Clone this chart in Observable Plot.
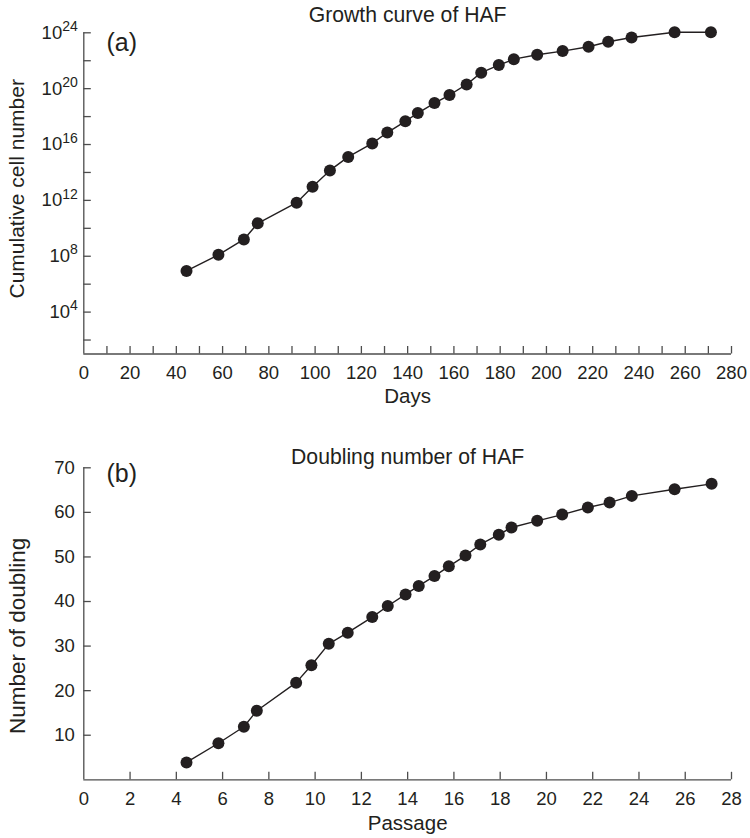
<!DOCTYPE html>
<html><head><meta charset="utf-8">
<script src="https://cdn.jsdelivr.net/npm/d3@7"></script>
<script src="https://cdn.jsdelivr.net/npm/@observablehq/plot@0.6"></script>
<style>
body{margin:0;background:#fff;}
#chart svg{display:block;}
</style></head><body><div id="chart"></div>
<script>
// ---- Panel (a): Growth curve of HAF ----
const days = [44.4, 58.2, 69.2, 75.2, 92.0, 98.9, 106.4, 114.3, 124.7, 131.2, 139.0, 144.4, 151.6,
  158.1, 165.5, 171.8, 179.4, 185.9, 196.0, 207.0, 218.2, 226.7, 236.8, 255.4, 271.1];
const cumulativeCells = [8.9e6, 1.26e8, 1.6e9, 2.3e10, 6.8e11, 9.3e12, 1.4e14, 1.3e15, 1.2e16, 7.2e16,
  4.6e17, 1.8e18, 9.3e18, 3.5e19, 2.0e20, 1.4e21, 4.9e21, 1.3e22, 2.7e22, 4.9e22, 1.0e23, 2.3e23,
  4.6e23, 1.1e24, 1.1e24];
const dayTickLabels = [0, 20, 40, 60, 80, 100, 120, 140, 160, 180, 200, 220, 240, 260, 280];
const dayTicks = [10, 20, 30, 40, 50, 60, 70, 80, 90, 100, 110, 120, 130, 140, 150, 160, 170, 180,
  190, 200, 210, 220, 230, 240, 250, 260, 270, 280];
const cellTickLabels = [1e4, 1e8, 1e12, 1e16, 1e20, 1e24];
const cellTicks = [1e2, 1e4, 1e6, 1e8, 1e10, 1e12, 1e14, 1e16, 1e18, 1e20, 1e22, 1e24];

// ---- Panel (b): Doubling number of HAF ----
const passage = [4.44, 5.82, 6.92, 7.48, 9.18, 9.84, 10.59, 11.41, 12.47, 13.14, 13.91, 14.48, 15.16,
  15.78, 16.50, 17.14, 17.94, 18.49, 19.60, 20.68, 21.79, 22.73, 23.69, 25.54, 27.14];
const doublings = [3.9, 8.2, 11.9, 15.5, 21.8, 25.7, 30.5, 33.0, 36.5, 39.0, 41.6, 43.5, 45.7,
  47.9, 50.3, 52.8, 55.0, 56.6, 58.1, 59.5, 61.1, 62.2, 63.7, 65.2, 66.4];
const passageTicks = [0, 2, 4, 6, 8, 10, 12, 14, 16, 18, 20, 22, 24, 26, 28];
const doublingTicks = [10, 20, 30, 40, 50, 60, 70];

const growth = days.map((d, i) => ({x: d, y: cumulativeCells[i]}));
const doubling = passage.map((p, i) => ({x: p, y: doublings[i]}));

const ink = "#231f20";
const axisColor = "#4d4d4d";
const font = "'Liberation Sans', Arial, Helvetica, sans-serif";
const W = 750, ML = 83.3, MR = 19;
const frameW = W - ML - MR;
const tickLen = 7.5;

function panel({height, marginTop, marginBottom, x, y, data, xTicks, xTickLabels, yTicks, yTickLabels,
  yFormat, yPad, title, titleDy, tag, tagDy, xLabel, xLabelDy, yLabel, yLabelDy, yLabelSize}) {
  const frameH = height - marginTop - marginBottom;
  return Plot.plot({
    width: W, height, marginLeft: ML, marginRight: MR, marginTop, marginBottom,
    style: {background: "#fff", color: ink, fontFamily: font},
    x, y,
    marks: [
      Plot.ruleY([y.domain[0]], {stroke: axisColor, strokeWidth: 1.3}),
      Plot.ruleX([x.domain[0]], {stroke: axisColor, strokeWidth: 1.3}),
      Plot.tickX(xTicks, {x: d => d, stroke: axisColor, strokeWidth: 1.3, insetTop: frameH - tickLen}),
      Plot.tickY(yTicks, {y: d => d, stroke: axisColor, strokeWidth: 1.3, insetRight: frameW - tickLen}),
      Plot.axisX({ticks: xTickLabels, tickSize: 0, tickPadding: 12, fontSize: 18.5, label: null, tickFormat: d => String(d)}),
      Plot.axisY({ticks: yTickLabels, tickSize: 0, tickPadding: yPad, fontSize: 18.5, label: null, tickFormat: yFormat}),
      Plot.line(data, {x: "x", y: "y", stroke: ink, strokeWidth: 1.4}),
      Plot.dot(data, {x: "x", y: "y", r: 6, fill: ink, stroke: "none"}),
      Plot.text([title], {text: d => d, frameAnchor: "top", lineAnchor: "top", dy: titleDy, fontSize: 21.2, fill: ink}),
      Plot.text([tag], {text: d => d, frameAnchor: "top-left", textAnchor: "start", lineAnchor: "top", dx: 22.7, dy: tagDy, fontSize: 25, fill: ink}),
      Plot.text([xLabel], {text: d => d, frameAnchor: "bottom", lineAnchor: "top", dy: xLabelDy, fontSize: 20.5, fill: ink}),
      Plot.text([yLabel], {text: d => d, frameAnchor: "left", textAnchor: "middle", lineAnchor: "middle", rotate: -90, dx: -66.5, dy: yLabelDy, fontSize: yLabelSize, fill: ink})
    ]
  });
}

const topPlot = panel({
  height: 420, marginTop: 32.3, marginBottom: 66.5,
  x: {domain: [0, 280]}, y: {type: "log", domain: [1e1, 1e24]},
  data: growth, xTicks: dayTicks, xTickLabels: dayTickLabels, yTicks: cellTicks, yTickLabels: cellTickLabels,
  yFormat: d => "10^" + Math.round(Math.log10(d)), yPad: 6,
  title: "Growth curve of HAF", titleDy: -25.5, tag: "(a)", tagDy: 0,
  xLabel: "Days", xLabelDy: 34.5, yLabel: "Cumulative cell number", yLabelDy: -4.6, yLabelSize: 21
});

const bottomPlot = panel({
  height: 418, marginTop: 47.3, marginBottom: 58.7,
  x: {domain: [0, 28]}, y: {domain: [0, 70]},
  data: doubling, xTicks: passageTicks.filter(d => d > 0), xTickLabels: passageTicks, yTicks: doublingTicks, yTickLabels: doublingTicks,
  yFormat: d => String(d), yPad: 9,
  title: "Doubling number of HAF", titleDy: -18.5, tag: "(b)", tagDy: -4,
  xLabel: "Passage", xLabelDy: 35.7, yLabel: "Number of doubling", yLabelDy: 12, yLabelSize: 22.5
});

// render exponents as superscripts
const NS = "http://www.w3.org/2000/svg";
for (const t of topPlot.querySelectorAll('g[aria-label="y-axis tick label"] text')) {
  const parts = t.textContent.split("^");
  if (parts.length !== 2) continue;
  t.textContent = "";
  const a = document.createElementNS(NS, "tspan");
  a.textContent = parts[0];
  const b = document.createElementNS(NS, "tspan");
  b.setAttribute("dy", "-0.55em");
  b.setAttribute("font-size", "0.76em");
  b.textContent = parts[1];
  t.append(a, b);
}

const chart = document.getElementById("chart");
chart.append(topPlot, bottomPlot);
</script>
</body></html>
